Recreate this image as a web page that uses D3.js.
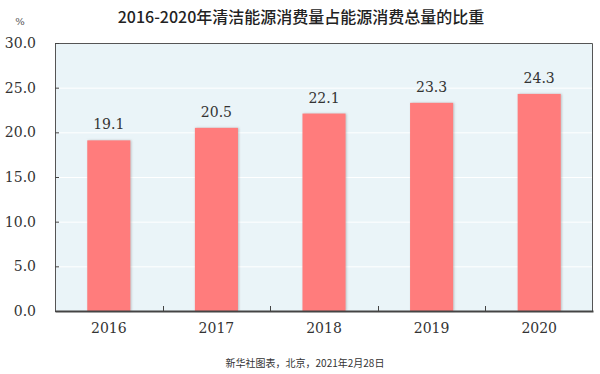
<!DOCTYPE html>
<html>
<head>
<meta charset="utf-8">
<script src="https://cdn.jsdelivr.net/npm/d3@7"></script>
<style>
  body { margin: 0; background: #fff; }
  svg { display: block; }
  .num { font-family: "DejaVu Serif", "Liberation Serif", serif; }
</style>
</head>
<body>
<div id="chart"></div>
<script>
var years = ["2016", "2017", "2018", "2019", "2020"];
var shares = [19.1, 20.5, 22.1, 23.3, 24.3];
var yTicks = [0, 5, 10, 15, 20, 25, 30];

var width = 600,
    height = 374;
var margin = {top: 43, right: 7, bottom: 63, left: 55};

var svg = d3.select("#chart")
    .append("svg")
    .attr("width", width)
    .attr("height", height);

var defs = svg.append("defs");
var shadow = defs.append("filter")
    .attr("id", "shadow")
    .attr("x", "-10%").attr("y", "-10%")
    .attr("width", "130%").attr("height", "130%");
shadow.append("feDropShadow")
    .attr("dx", 1).attr("dy", 0)
    .attr("stdDeviation", 0.8)
    .attr("flood-color", "#888")
    .attr("flood-opacity", 0.5);

var x = d3.scaleBand()
    .domain(years)
    .range([margin.left, width - margin.right])
    .paddingInner(0.6)
    .paddingOuter(0.3);

var y = d3.scaleLinear()
    .domain([0, 30])
    .range([height - margin.bottom, margin.top]);

// plot background
svg.append("rect")
    .attr("x", margin.left)
    .attr("y", margin.top)
    .attr("width", width - margin.left - margin.right)
    .attr("height", height - margin.top - margin.bottom)
    .attr("fill", "#eaf4f8");

// white grid lines
svg.append("g")
    .selectAll("line")
    .data(yTicks.slice(1, -1))
    .enter()
    .append("line")
    .attr("x1", margin.left)
    .attr("x2", width - margin.right)
    .attr("y1", function(d) { return y(d) + 0.5; })
    .attr("y2", function(d) { return y(d) + 0.5; })
    .attr("stroke", "#ffffff")
    .attr("stroke-width", 1);

// bars
svg.append("g")
    .selectAll("rect")
    .data(shares)
    .enter()
    .append("rect")
    .attr("x", function(d, i) { return x(years[i]); })
    .attr("y", function(d) { return y(d); })
    .attr("width", x.bandwidth())
    .attr("height", function(d) { return y(0) - y(d); })
    .attr("fill", "#ff7b7b")
    .attr("filter", "url(#shadow)");

// value labels
svg.append("g")
    .selectAll("text")
    .data(shares)
    .enter()
    .append("text")
    .attr("class", "num")
    .attr("x", function(d, i) { return x(years[i]) + x.bandwidth() / 2; })
    .attr("y", function(d) { return y(d) - 11; })
    .attr("text-anchor", "middle")
    .attr("font-size", "14px")
    .attr("fill", "#333")
    .text(function(d) { return d.toFixed(1); });

// frame (left, top, right)
svg.append("path")
    .attr("d", "M" + (margin.left + 0.5) + "," + y(0) +
        "V" + (margin.top + 0.5) +
        "H" + (width - margin.right - 0.5) +
        "V" + y(0))
    .attr("fill", "none")
    .attr("stroke", "#555")
    .attr("stroke-width", 1);

// y axis
var yAxis = svg.append("g")
    .attr("transform", "translate(" + margin.left + ",0)")
    .call(d3.axisRight(y).tickValues(yTicks).tickSize(4).tickFormat(""));
yAxis.select(".domain").remove();
yAxis.selectAll(".tick line").attr("stroke", "#444");

svg.append("g")
    .selectAll("text")
    .data(yTicks)
    .enter()
    .append("text")
    .attr("class", "num")
    .attr("x", 36)
    .attr("y", function(d) { return y(d) + 5; })
    .attr("text-anchor", "end")
    .attr("font-size", "14px")
    .attr("fill", "#333")
    .text(function(d) { return d.toFixed(1); });

// x axis with inward ticks between bands
var xAxis = svg.append("g")
    .attr("transform", "translate(0," + y(0) + ")")
    .call(d3.axisBottom(x).tickSize(0).tickPadding(12));
xAxis.select(".domain")
    .attr("stroke", "#444")
    .attr("stroke-width", 2);
xAxis.selectAll(".tick text")
    .attr("class", "num")
    .attr("font-size", "14px")
    .attr("fill", "#333");
xAxis.attr("font-family", null);

var step = x.step();
xAxis.append("g")
    .selectAll("line")
    .data(years.slice(1))
    .enter()
    .append("line")
    .attr("x1", function(d) { return Math.round(x(d) - step * x.paddingInner() / 2) + 0.5; })
    .attr("x2", function(d) { return Math.round(x(d) - step * x.paddingInner() / 2) + 0.5; })
    .attr("y1", 0)
    .attr("y2", -5)
    .attr("stroke", "#444");

// title
svg.append("text")
    .attr("x", 301)
    .attr("y", 23)
    .attr("text-anchor", "middle")
    .attr("font-family", "'Noto Sans CJK SC', sans-serif")
    .attr("font-weight", "500")
    .attr("font-size", "16px")
    .attr("fill", "#222")
    .text("2016-2020年清洁能源消费量占能源消费总量的比重");

svg.append("text")
    .attr("class", "num")
    .attr("x", 20)
    .attr("y", 25)
    .attr("text-anchor", "middle")
    .attr("font-size", "10px")
    .attr("fill", "#555")
    .text("%");

// source note
svg.append("text")
    .attr("x", 305)
    .attr("y", 367)
    .attr("text-anchor", "middle")
    .attr("font-family", "'Noto Sans CJK SC', sans-serif")
    .attr("font-size", "10px")
    .attr("fill", "#333")
    .text("新华社图表，北京，2021年2月28日");
</script>
</body>
</html>
